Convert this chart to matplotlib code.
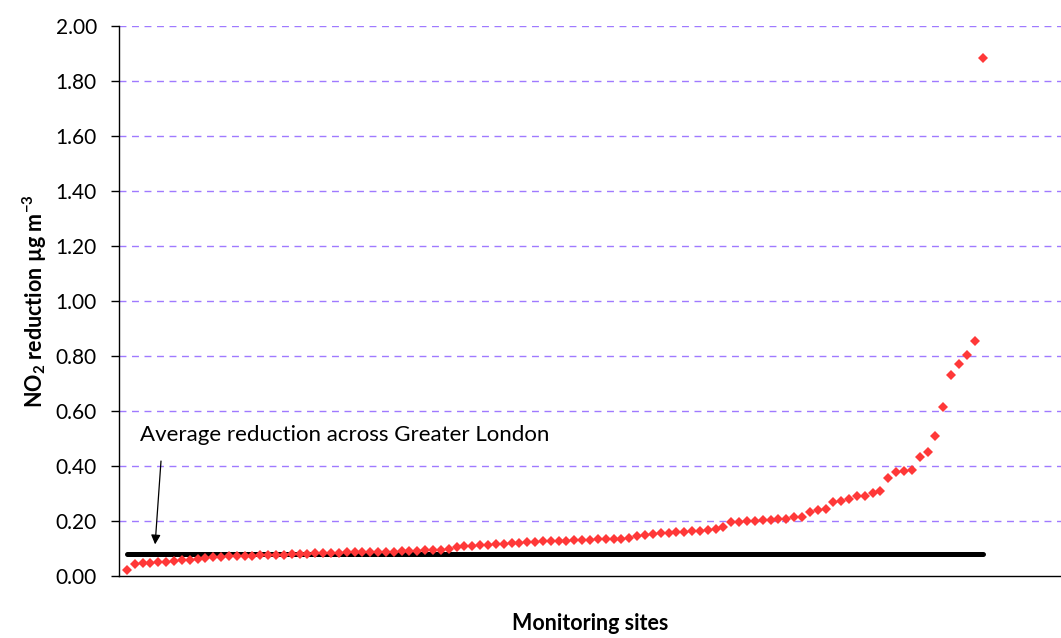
import numpy as np
import matplotlib
matplotlib.use("Agg")
import matplotlib.pyplot as plt

plt.rcParams['font.family'] = ['Lato', 'DejaVu Sans']
plt.rcParams['mathtext.default'] = 'regular'

# NO2 reduction per monitoring site, sorted ascending
reduction = [
    0.022, 0.044, 0.046, 0.048, 0.050, 0.052, 0.054, 0.057, 0.060, 0.063,
    0.066, 0.068, 0.070, 0.071, 0.072, 0.073, 0.074, 0.075, 0.076, 0.077,
    0.078, 0.079, 0.080, 0.081, 0.082, 0.083, 0.084, 0.085, 0.086, 0.087,
    0.087, 0.088, 0.088, 0.089, 0.089, 0.090, 0.091, 0.092, 0.093, 0.094,
    0.095, 0.097, 0.105, 0.108, 0.110, 0.112, 0.113, 0.115, 0.117, 0.119,
    0.120, 0.122, 0.124, 0.126, 0.127, 0.128, 0.129, 0.130, 0.131, 0.132,
    0.133, 0.134, 0.135, 0.136, 0.138, 0.145, 0.150, 0.153, 0.156, 0.158,
    0.160, 0.161, 0.163, 0.165, 0.167, 0.170, 0.177, 0.195, 0.198, 0.200,
    0.200, 0.202, 0.204, 0.206, 0.208, 0.215, 0.215, 0.233, 0.239, 0.244,
    0.268, 0.273, 0.279, 0.290, 0.290, 0.301, 0.309, 0.357, 0.377, 0.383,
    0.384, 0.432, 0.450, 0.510, 0.616, 0.730, 0.770, 0.804, 0.853, 1.884,
]
average_reduction = 0.08
yticks = [0.0, 0.2, 0.4, 0.6, 0.8, 1.0, 1.2, 1.4, 1.6, 1.8, 2.0]

sites = np.arange(1, len(reduction) + 1)

fig = plt.figure(figsize=(10.61, 6.38), dpi=100)
ax = fig.add_axes([119 / 1061, 1 - 576 / 638, 1 - 119 / 1061, 550 / 638])

# gridlines (dashed lavender)
for y in yticks[1:]:
    ax.axhline(y, color='#9f7aff', lw=1.0, dashes=(5, 4), zorder=1)

# average line
ax.plot([sites[0], sites[-1]], [average_reduction, average_reduction],
        color='black', lw=3.6, solid_capstyle='round', zorder=2)

# site values
ax.plot(sites, reduction, linestyle='none', marker='D', markersize=5.3,
        color='#ff3838', markeredgewidth=0, zorder=3)

ax.text(2.7, 0.475, 'Average reduction across Greater London',
        fontsize=16, ha='left', va='bottom')
ax.annotate('', xy=(4.6, 0.115), xytext=(5.35, 0.418),
            arrowprops=dict(arrowstyle='-|>', color='black', lw=0.9,
                            mutation_scale=14, shrinkA=0, shrinkB=0))

ax.set_xlim(0, 120)
ax.set_ylim(0, 2.0)
ax.set_yticks(yticks)
ax.set_yticklabels(['%.2f' % y for y in yticks], fontsize=15)
ax.set_xticks([])
ax.tick_params(axis='y', direction='out', length=6, width=1, pad=10)

ax.spines['top'].set_visible(False)
ax.spines['right'].set_visible(False)
ax.spines['left'].set_linewidth(1)
ax.spines['bottom'].set_linewidth(1)

ax.set_ylabel(r'NO$_2$ reduction µg m$^{-3}$', fontsize=15.5, fontweight='bold', labelpad=5)
ax.set_xlabel('Monitoring sites', fontsize=15.5, fontweight='bold', labelpad=27)

fig.savefig('out.png', dpi=100)
